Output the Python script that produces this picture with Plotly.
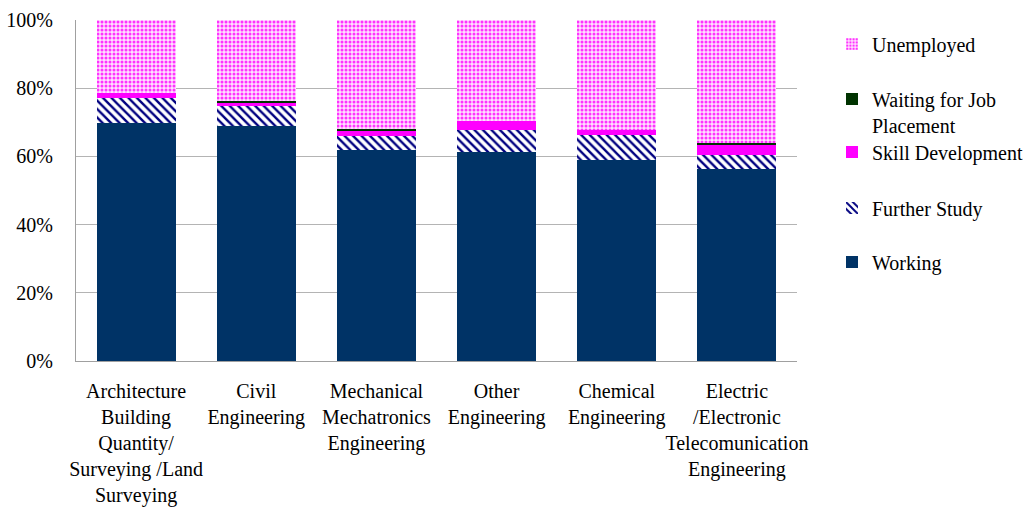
import plotly.graph_objects as go

# Graduate destinations by field of study (share of graduates, %)
categories = [
    "Architecture<br>Building<br>Quantity/<br>Surveying /Land<br>Surveying",
    "Civil<br>Engineering",
    "Mechanical<br>Mechatronics<br>Engineering",
    "Other<br>Engineering",
    "Chemical<br>Engineering",
    "Electric<br>/Electronic<br>Telecomunication<br>Engineering",
]
working = [69.9, 69.0, 61.9, 61.4, 58.9, 56.3]
further_study = [7.3, 5.9, 4.2, 6.4, 7.3, 4.1]
skill_development = [1.3, 0.8, 1.5, 2.6, 1.5, 3.0]
waiting_placement = [0.0, 0.6, 0.4, 0.0, 0.0, 0.6]
unemployed = [21.5, 23.7, 32.0, 29.6, 32.3, 36.0]

y_ticks = [0, 20, 40, 60, 80, 100]
y_tick_labels = [f"{v}%" for v in y_ticks]

FONT = "Liberation Serif"
W, H = 1036, 512
L, R, T, B = 76, 239, 20, 151
plot_h = H - T - B
plot_w = W - L - R


def px_y(y):
    """Pixel row -> paper y."""
    return (H - B - y) / plot_h


def px_x(x):
    return (x - L) / plot_w


fig = go.Figure()

fig.add_trace(go.Bar(
    x=categories, y=working, name="Working", legend="legend5",
    marker=dict(color="#003366", line=dict(width=0)),
))
fig.add_trace(go.Bar(
    x=categories, y=further_study, name="Further Study", legend="legend4",
    marker=dict(color="#ffffff", line=dict(width=0),
                pattern=dict(shape="\\", fgcolor="#000080", bgcolor="#ffffff",
                             size=6, solidity=0.4, fillmode="replace")),
))
fig.add_trace(go.Bar(
    x=categories, y=skill_development, name="Skill Development", legend="legend3",
    marker=dict(color="#ff00ff", line=dict(width=0)),
))
fig.add_trace(go.Bar(
    x=categories, y=waiting_placement, name="Waiting for Job<br>Placement", legend="legend2",
    marker=dict(color="#003300", line=dict(width=0)),
))
fig.add_trace(go.Bar(
    x=categories, y=unemployed, name="Unemployed", legend="legend",
    marker=dict(color="#ffffff", line=dict(width=0),
                pattern=dict(shape=".", fgcolor="#ff33ff", bgcolor="#ffe0ff",
                             size=4, solidity=0.45, fillmode="replace")),
))

legend_x = px_x(832)
legend_common = dict(
    x=legend_x, xanchor="left", yanchor="middle",
    font=dict(family=FONT, size=20, color="#000000"),
    bgcolor="rgba(0,0,0,0)", borderwidth=0, itemclick=False,
)

fig.update_layout(
    width=W, height=H,
    margin=dict(l=L, r=R, t=T, b=B, pad=0, autoexpand=False),
    paper_bgcolor="#ffffff", plot_bgcolor="#ffffff",
    barmode="stack", bargap=0.343,
    showlegend=True,
    font=dict(family=FONT, size=20, color="#000000"),
    legend=dict(y=px_y(44), **legend_common),
    legend2=dict(y=px_y(112), valign="top", **legend_common),
    legend3=dict(y=px_y(152), **legend_common),
    legend4=dict(y=px_y(208), **legend_common),
    legend5=dict(y=px_y(262), **legend_common),
    xaxis=dict(
        showgrid=False, showline=True, linecolor="#a0a0a0", linewidth=1,
        ticks="", tickangle=0, ticklabelstandoff=12, automargin=False,
        tickfont=dict(family=FONT, size=20, color="#000000"),
    ),
    yaxis=dict(
        range=[0, 100], tickmode="array", tickvals=y_ticks, ticktext=y_tick_labels,
        showgrid=True, gridcolor="#b4b4b4", gridwidth=1,
        showline=True, linecolor="#a0a0a0", linewidth=1, automargin=False,
        zeroline=False, ticks="", ticklabelstandoff=18,
        tickfont=dict(family=FONT, size=20, color="#000000"),
    ),
)

fig.write_html("out.html")
